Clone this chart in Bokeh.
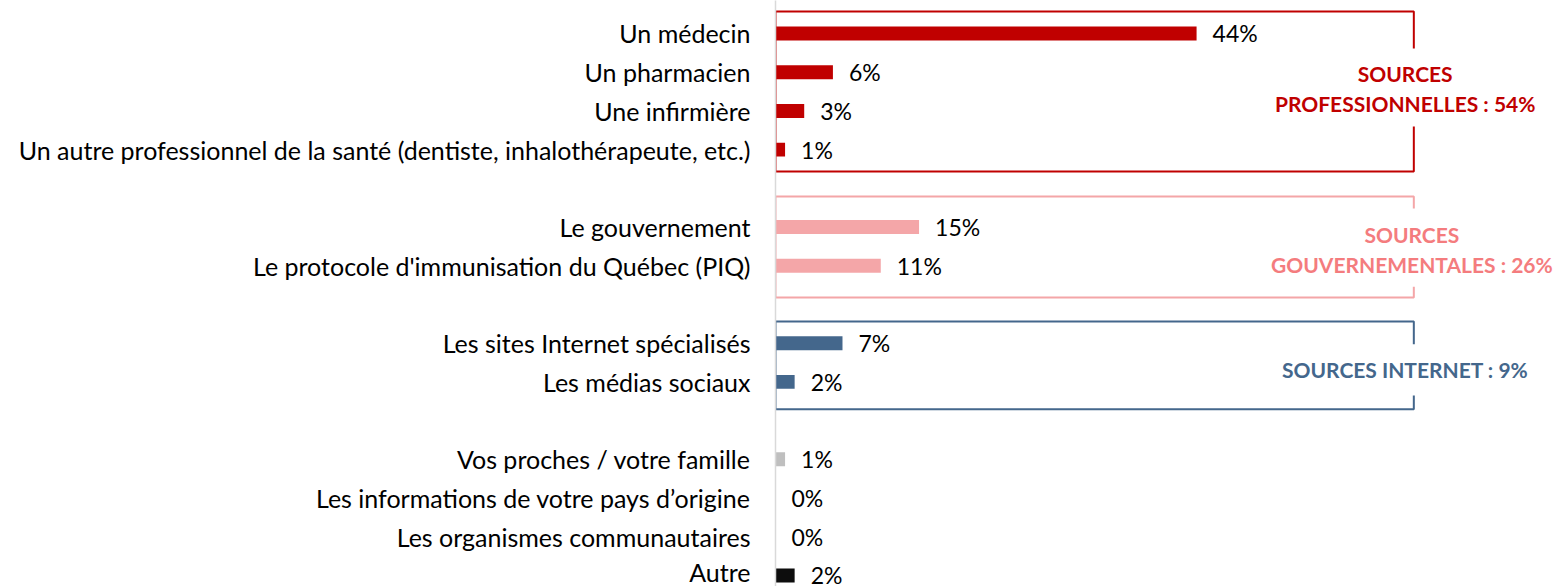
from bokeh.plotting import figure
from bokeh.models import Range1d, FixedTicker, ColumnDataSource, Label
from bokeh.core.properties import value
from bokeh.embed import file_html
from bokeh.resources import INLINE

# ---------------- data ----------------
prof_labels = ["Un médecin", "Un pharmacien", "Une infirmière",
               "Un autre professionnel de la santé (dentiste, inhalothérapeute, etc.)"]
prof_values = [44, 6, 3, 1]
gov_labels = ["Le gouvernement", "Le protocole d'immunisation du Québec (PIQ)"]
gov_values = [15, 11]
web_labels = ["Les sites Internet spécialisés", "Les médias sociaux"]
web_values = [7, 2]
other_labels = ["Vos proches / votre famille", "Les informations de votre pays d’origine",
                "Les organismes communautaires", "Autre"]
other_values = [1, 0, 0, 2]
other_colors = ["#BFBFBF", "#BFBFBF", "#BFBFBF", "#0D0D0D"]

group_titles = [["SOURCES", "PROFESSIONNELLES : 54%"],
                ["SOURCES", "GOUVERNEMENTALES : 26%"],
                ["SOURCES INTERNET : 9%"]]
footnote = "L'écart à 100% est attribuable à la non-réponse."

# ---------------- styles ----------------
FONT = "Lato"
C_PROF, C_GOV_BAR, C_GOV_TXT, C_GOV_BOX, C_WEB = "#C00000", "#F4A6A8", "#F47C7E", "#F4A6A8", "#44678C"

# build rows (with a blank gap row between groups)
groups = [
    (prof_labels, prof_values, [C_PROF] * 4),
    (gov_labels, gov_values, [C_GOV_BAR] * 2),
    (web_labels, web_values, [C_WEB] * 2),
    (other_labels, other_values, other_colors),
]
ys, labels, vals, cols, group_rows = [], [], [], [], []
row = 0
for lab, v, c in groups:
    idx = []
    for l, vv, cc in zip(lab, v, c):
        ys.append(-row); labels.append(l); vals.append(vv); cols.append(cc); idx.append(row)
        row += 1
    group_rows.append(idx)
    row += 1

src = ColumnDataSource(dict(y=ys, v=vals, c=cols,
                            t=[f"{x}%" for x in vals]))

W, H = 1554, 586
p = figure(width=W, height=H, output_backend="svg", toolbar_location=None,
           x_range=Range1d(0, 81.4), y_range=Range1d(-14.286, 0.8525),
           min_border_left=775, min_border_right=0, min_border_top=0, min_border_bottom=0)
p.outline_line_color = None
p.xgrid.visible = False
p.ygrid.visible = False
p.xaxis.visible = False
p.background_fill_color = "white"

ax = p.yaxis[0]
ax.ticker = FixedTicker(ticks=ys)
ax.major_label_overrides = {y: l for y, l in zip(ys, labels)}
ax.major_tick_line_color = None
ax.minor_tick_line_color = None
ax.axis_line_color = "#D9D9D9"
ax.axis_line_width = 1.5
ax.major_label_standoff = 19
ax.major_label_text_font = FONT
ax.major_label_text_font_size = "25px"
ax.major_label_text_color = "#000000"

p.hbar(y="y", right="v", left=0, height=0.36, color="c", source=src, line_color=None)
p.text(x="v", y="y", text="t", source=src, x_offset=16, text_align="left",
       text_baseline="middle", text_font=value(FONT), text_font_size="23px",
       text_color="#000000")

# group boxes with an opening on the right side for the title
BOX_RIGHT = 66.7
box_specs = [  # (colour, pad top, pad bottom, gap top, gap bottom) in row units
    (C_PROF, 0.57, 0.565, 0.39, 2.40),
    (C_GOV_BOX, 0.79, 0.82, 4.52, 6.54),
    (C_WEB, 0.56, 0.71, 8.03, 9.35),
]
for (col, pt, pb, g0, g1), rows_ in zip(box_specs, group_rows[:3]):
    top = -(rows_[0] - pt)
    bot = -(rows_[-1] + pb)
    xs = [BOX_RIGHT, BOX_RIGHT, 0, 0, BOX_RIGHT, BOX_RIGHT]
    yy = [-g0, top, top, bot, bot, -g1]
    p.line(xs, yy, line_color=col, line_width=2)

title_specs = [(65.8, [1.03, 1.81], C_PROF), (66.5, [5.19, 5.97], C_GOV_TXT), (65.8, [8.68], C_WEB)]
for (xc, rws, col), lines in zip(title_specs, group_titles):
    p.text(x=[xc] * len(lines), y=[-r for r in rws], text=lines, text_align="center",
           text_baseline="middle", text_font=value(FONT), text_font_style="bold",
           text_font_size="21px", text_color=col)

p.add_layout(Label(x=-80.67, y=-14.05, text=footnote, text_baseline="top", text_align="left",
                   text_font=FONT, text_font_size="18px", text_color="#000000"))

open("out.html", "w").write(file_html(p, INLINE))
